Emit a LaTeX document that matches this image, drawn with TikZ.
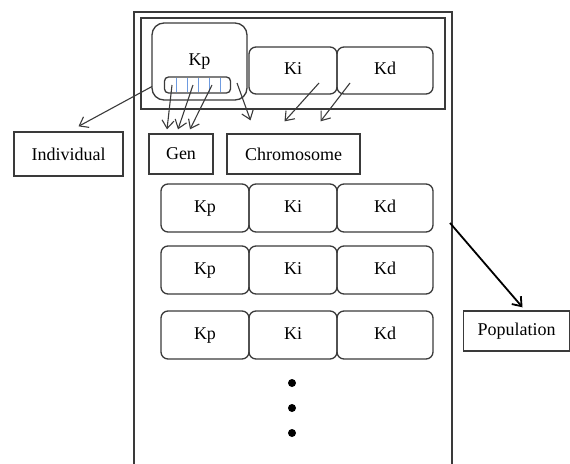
\documentclass[tikz,border=0pt]{standalone}
\usepackage{fontspec}
\setmainfont{Liberation Serif}
\usetikzlibrary{arrows.meta, positioning, calc}
\definecolor{galine}{HTML}{3A3A3A}
\definecolor{gablue}{HTML}{6E9BE0}

\begin{document}
\begin{tikzpicture}[
  x=1pt, y=-1pt,
  font=\fontsize{18}{20}\selectfont,
  frame/.style={draw=galine, line width=1.3pt},
  param/.style={rectangle, rounded corners=7pt,
    draw=galine, line width=1.3pt,
    minimum height=48pt, inner sep=0pt, outer sep=0pt,
    text height=12pt, text depth=4pt},
  tag/.style={rectangle, draw=galine, line width=1.3pt,
    minimum height=40pt, inner sep=0pt},
  arr/.style={-{Straight Barb[length=8pt, width=12pt]},
    draw=galine, line width=1.1pt},
  genline/.style={draw=gablue, line width=1pt},
  dot/.style={circle, fill=black, inner sep=0pt, minimum size=8pt}
]
  \useasboundingbox (0,0) rectangle (570,463);

  % population frame and the first individual
  \draw[frame] (134,480) -- (134,12) -- (452,12) -- (452,480);
  \draw[frame] (141,18) rectangle (445,109);
  \coordinate (popedge) at (450,223);

  \node[param, minimum width=95pt, minimum height=77pt,
    rounded corners=12pt] (kp0) at (199.5,61.5) {Kp};
  \node[param, rounded corners=4pt, minimum width=66pt,
    minimum height=16pt] (strip) at (197.5,85) {};
  \foreach \gx in {176,187,198,209,220}
    \draw[genline] (\gx,78) -- (\gx,92);
  \node[param, minimum width=88pt, minimum height=47pt] (ki0) at (293,70.5) {Ki};
  \node[param, minimum width=96pt, minimum height=47pt, right=0pt of ki0] (kd0) {Kd};

  % labels
  \node[tag, minimum width=64pt] (gen) at (181,154) {Gen};
  \node[tag, minimum width=133pt] (chrom) at (293.5,154) {Chromosome};
  \node[tag, minimum width=109pt, minimum height=44pt] (indiv) at (68.5,154) {Individual};
  \node[tag, minimum width=106pt] (popu) at (516.5,331) {Population};

  % individuals of the population
  \node[param, minimum width=88pt] (kp1) at (205,208) {Kp};
  \node[param, minimum width=88pt, right=0pt of kp1] (ki1) {Ki};
  \node[param, minimum width=96pt, right=0pt of ki1] (kd1) {Kd};
  \node[param, minimum width=88pt, below=14pt of kp1] (kp2) {Kp};
  \node[param, minimum width=88pt, right=0pt of kp2] (ki2) {Ki};
  \node[param, minimum width=96pt, right=0pt of ki2] (kd2) {Kd};
  \node[param, minimum width=88pt, below=17pt of kp2] (kp3) {Kp};
  \node[param, minimum width=88pt, right=0pt of kp3] (ki3) {Ki};
  \node[param, minimum width=96pt, right=0pt of ki3] (kd3) {Kd};

  \node[dot] (dot1) at (292,383) {};
  \node[dot] (dot2) at (292,408) {};
  \node[dot] (dot3) at (292,433) {};

  % connectors
  \draw[arr] ([yshift=-25pt]kp0.west) -- ([xshift=10pt,yshift=5pt]indiv.north);
  \draw[arr] ([xshift=-25.5pt]strip.center) -- ([xshift=-14pt,yshift=4pt]gen.north);
  \draw[arr] ([xshift=-4.5pt]strip.center) -- ([xshift=-3pt,yshift=4pt]gen.north);
  \draw[arr] ([xshift=14.5pt]strip.center) -- ([xshift=9pt,yshift=4pt]gen.north);
  \draw[arr] ([xshift=-10pt,yshift=17pt]kp0.south east) -- ([xshift=-43pt,yshift=13pt]chrom.north);
  \draw[arr] ([xshift=26pt,yshift=11pt]ki0.south) -- ([xshift=-9pt,yshift=12pt]chrom.north);
  \draw[arr] ([xshift=-35pt,yshift=11pt]kd0.south) -- ([xshift=27pt,yshift=12pt]chrom.north);
  \draw[arr, draw=black, line width=1.8pt] (popedge) -- ([xshift=6pt,yshift=3pt]popu.north);
\end{tikzpicture}
\end{document}
